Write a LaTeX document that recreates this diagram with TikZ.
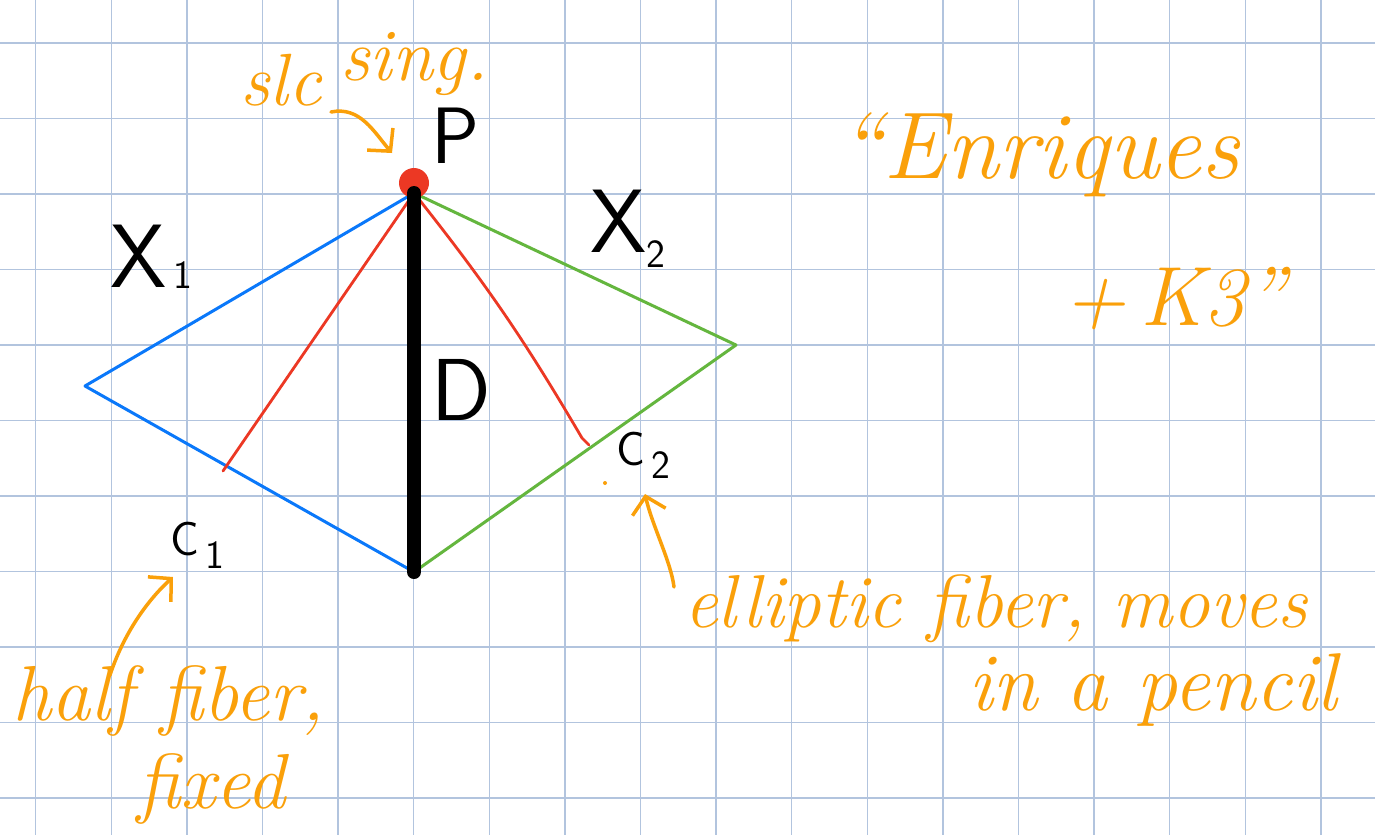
\documentclass[tikz,border=0pt]{standalone}
\usepackage{fontspec}
\usetikzlibrary{arrows.meta}
\definecolor{gridc}{RGB}{178,196,222}
\definecolor{pen}{RGB}{250,160,10}
\definecolor{bl}{RGB}{10,120,250}
\definecolor{gr}{RGB}{100,182,62}
\definecolor{rd}{RGB}{236,56,36}
\newcommand\lowsub[2]{\raisebox{#1}{\fontsize{40}{40}\selectfont #2}}
\tikzset{
  gridline/.style={gridc, line width=1.3pt},
  note/.style={pen, inner sep=0pt, anchor=base west},
  lab/.style={black, inner sep=0pt},
  pointer/.style={pen, line width=3.5pt, line cap=round, line join=round,
    -{Straight Barb[length=16pt,width=34pt,line width=3.5pt]}},
  edgeblue/.style={bl, line width=3pt, line join=round, line cap=round},
  edgegreen/.style={gr, line width=3pt, line join=round, line cap=round},
  fiber/.style={rd, line width=2.8pt, line cap=round, line join=round},
  divisor/.style={black, line width=14pt, line cap=round}
}
\begin{document}
\begin{tikzpicture}[x=1pt,y=-1pt]
\fill[white] (0,0) rectangle (1375,835);
\useasboundingbox (0,0) rectangle (1375,835);
% grid
\foreach \i in {0,...,17} \draw[gridline] ({35.7+75.6*\i},0) -- ({35.7+75.6*\i},835);
\foreach \j in {0,...,10} \draw[gridline] (0,{43+75.5*\j}) -- (1375,{43+75.5*\j});
% points
\coordinate (P) at (414,193);
\coordinate (L) at (85,386);
\coordinate (R) at (736,345);
\coordinate (B) at (414,572);
\coordinate (E1) at (223,471);
\coordinate (K2) at (582,438);
\coordinate (E2) at (589,445);
% components
\draw[edgeblue] (P) -- (L) -- (B);
\draw[edgegreen] (P) -- (R) -- (B);
\draw[fiber] (P) -- (E1);
\draw[fiber] (P) to[bend left=4] (K2) -- (E2);
\node[circle, fill=rd, minimum size=30pt, inner sep=0pt] (Pdot) at (414,183) {};
\draw[divisor] (P) -- (B);
\fill[pen] (605,483) circle (2);
% black labels
\node[lab, anchor=base, font=\sffamily\fontsize{80}{80}\selectfont] (Plab) at (455,163) {P};
\node[lab, anchor=base west, font=\sffamily\fontsize{90}{90}\selectfont] (X1) at (110,287) {X\lowsub{-0.02em}{\,1}};
\node[lab, anchor=base west, font=\sffamily\fontsize{90}{90}\selectfont] (X2) at (590,252) {X\lowsub{-0.17em}{2}};
\node[lab, anchor=base, font=\sffamily\fontsize{88}{88}\selectfont] (Dlab) at (461,420) {D};
\node[lab, anchor=base west, font=\sffamily\fontsize{48}{48}\selectfont] (C1) at (170,555) {C\lowsub{-0.28em}{\,1}};
\node[lab, anchor=base west, font=\sffamily\fontsize{48}{48}\selectfont] (C2) at (616,465) {C\lowsub{-0.28em}{\,2}};
% orange notes
\node[note, font=\itshape\fontsize{74}{74}\selectfont] (slc) at (240,105) {slc};
\node[note, font=\itshape\fontsize{74}{74}\selectfont] (sing) at (340,80) {sing.};
\node[note, font=\itshape\fontsize{95}{95}\selectfont] (enr) at (838,178) {``Enriques};
\node[note, anchor=base east, font=\itshape\fontsize{84}{84}\selectfont] (k3) at (1286,325) {+\,K3''};
\node[note, font=\itshape\fontsize{78}{78}\selectfont] (half) at (12,720) {half fiber,};
\node[note, font=\itshape\fontsize{78}{78}\selectfont] (fixed) at (137,808) {fixed};
\node[note, font=\itshape\fontsize{75}{75}\selectfont] (ell) at (684,627) {elliptic fiber, moves};
\node[note, font=\itshape\fontsize{82}{82}\selectfont] (pen) at (968,710) {in a pencil};
% pointers
\coordinate (s1) at (331,112);
\coordinate (t1) at (392,153);
\draw[pointer] (s1) .. controls (360,106) and (374,132) .. (t1);
\coordinate (s2) at (110,675);
\coordinate (t2) at (173,577);
\draw[pointer] (s2) .. controls (125,630) and (150,598) .. (t2);
\coordinate (s3) at (674,587);
\coordinate (t3) at (645,494);
\draw[pointer] (s3) .. controls (671,562) and (652,525) .. (t3);
\end{tikzpicture}
\end{document}
